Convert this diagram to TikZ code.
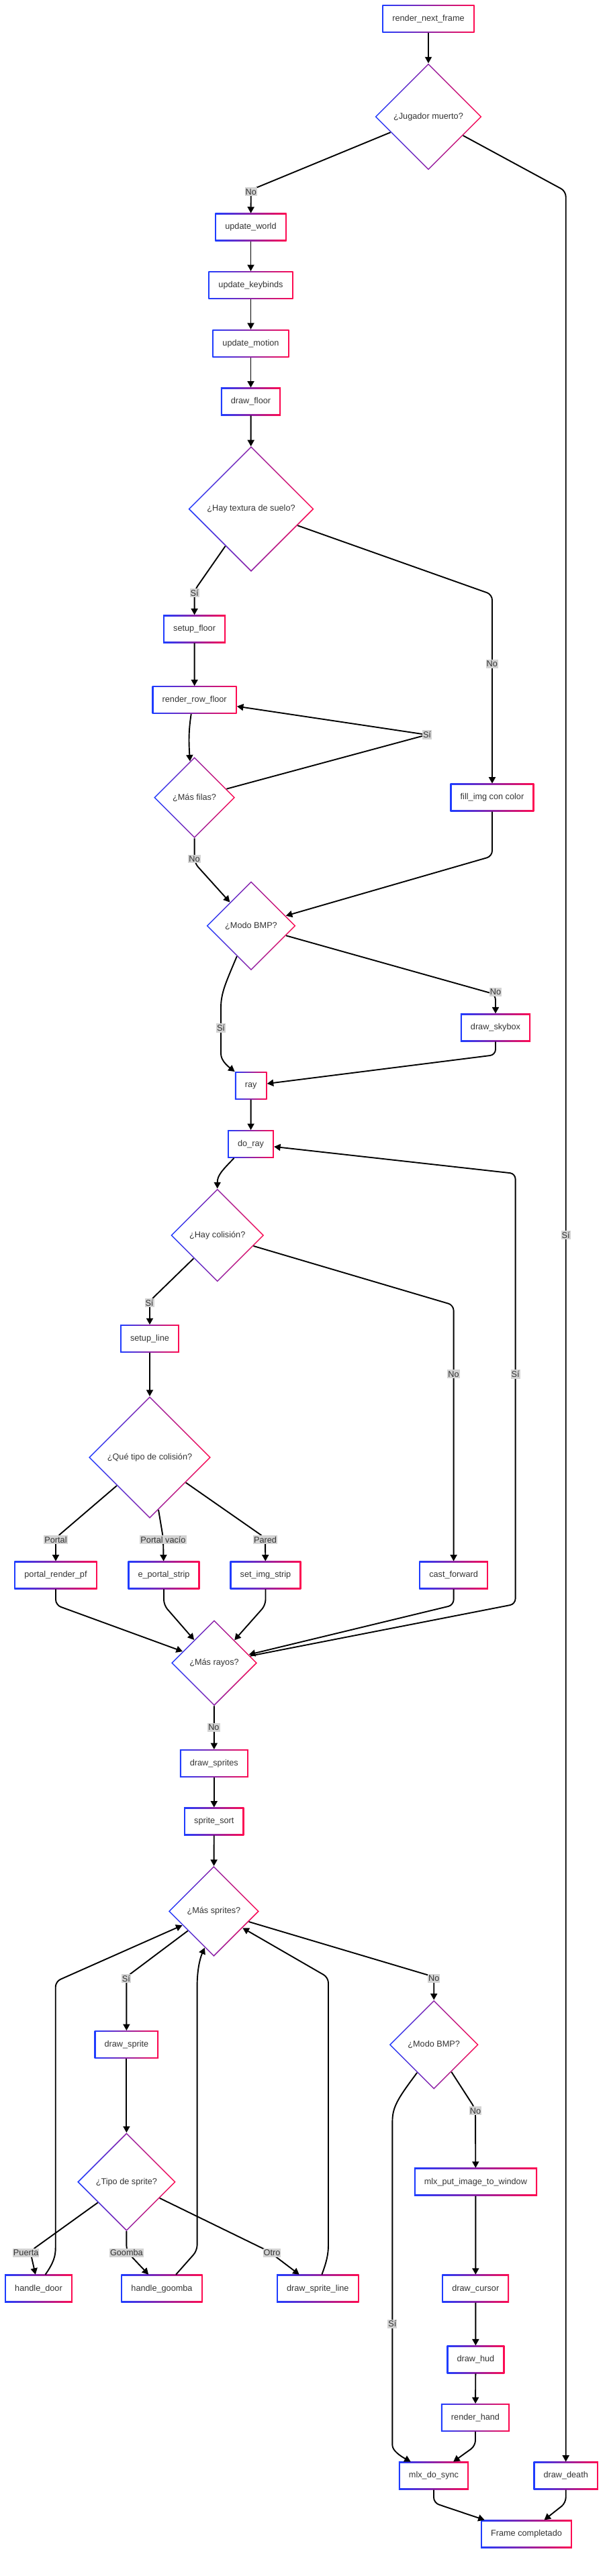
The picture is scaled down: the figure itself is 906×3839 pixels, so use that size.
\documentclass[tikz,border=0pt]{standalone}
\usepackage{fontspec}
\setmainfont{Liberation Sans}
\usetikzlibrary{shapes.geometric,arrows.meta}
\definecolor{cB}{RGB}{30,60,255}
\definecolor{cR}{RGB}{255,10,80}
\definecolor{txt}{RGB}{51,51,51}
\definecolor{lblbg}{RGB}{211,211,211}
\tikzset{
  base/.style={font=\fontsize{12.7}{15}\selectfont, text=txt},
  procbox/.style={base, rectangle, minimum height=41.5pt, inner xsep=15pt, inner ysep=2pt,
    left color=cB, right color=cR,
    path picture={\fill[white] ([shift={(2pt,2pt)}]path picture bounding box.south west) rectangle ([shift={(-2pt,-2pt)}]path picture bounding box.north east);}},
  decision/.style={base, diamond, shape aspect=1, inner sep=0pt, minimum width=#1, minimum height=#1,
    left color=cB, right color=cR,
    path picture={\fill[white] ([yshift=-2.3pt]path picture bounding box.north) -- ([xshift=-2.3pt]path picture bounding box.east) -- ([yshift=2.3pt]path picture bounding box.south) -- ([xshift=2.3pt]path picture bounding box.west) -- cycle;}},
  elabel/.style={base, fill=lblbg, inner xsep=1pt, inner ysep=2pt},
  arr/.style={line width=1.9pt, -{Triangle[length=9.5pt,width=10pt]}, rounded corners=8pt, line join=round},
}
\begin{document}
\begin{tikzpicture}[x=1pt,y=-1pt]
\useasboundingbox[fill=white] (0,0) rectangle (906,3839);
% nodes
\node[procbox] (rnf) at (638,28) {render\_next\_frame};
\node[decision=159pt] (jug) at (638,174) {¿Jugador muerto?};
\node[procbox] (uw) at (373.5,338.7) {update\_world};
\node[procbox] (uk) at (373.5,425) {update\_keybinds};
\node[procbox] (um) at (373.5,511.8) {update\_motion};
\node[procbox] (df) at (373.5,598.5) {draw\_floor};
\node[decision=187pt] (hts) at (374,758.6) {¿Hay textura de suelo?};
\node[procbox] (sf) at (289.6,937.4) {setup\_floor};
\node[procbox] (rrf) at (289.7,1043.2) {render\_row\_floor};
\node[decision=121pt] (mf) at (289.6,1188.6) {¿Más filas?};
\node[procbox] (fic) at (733,1188.6) {fill\_img con color};
\node[decision=133pt] (bmpa) at (374,1379.7) {¿Modo BMP?};
\node[procbox] (sky) at (738,1531.4) {draw\_skybox};
\node[procbox] (ray) at (373.7,1618) {ray};
\node[procbox] (dor) at (373.5,1705) {do\_ray};
\node[decision=139pt] (hc) at (323.7,1841) {¿Hay colisión?};
\node[procbox] (sl) at (223,1995) {setup\_line};
\node[decision=182pt] (qt) at (223,2172) {¿Qué tipo de colisión?};
\node[procbox] (prp) at (83,2347.5) {portal\_render\_pf};
\node[procbox] (eps) at (244,2347.5) {e\_portal\_strip};
\node[procbox] (sis) at (395.5,2347.5) {set\_img\_strip};
\node[procbox] (cf) at (675.6,2347.5) {cast\_forward};
\node[decision=128pt] (mr) at (319,2478.3) {¿Más rayos?};
\node[procbox] (ds) at (318.8,2628) {draw\_sprites};
\node[procbox] (ss) at (318.8,2714.5) {sprite\_sort};
\node[decision=135pt] (ms) at (318.4,2848.4) {¿Más sprites?};
\node[procbox] (dsp) at (188.4,3047) {draw\_sprite};
\node[decision=133pt] (bmpb) at (646.2,3047.2) {¿Modo BMP?};
\node[decision=146.5pt] (ts) at (188.4,3251.7) {¿Tipo de sprite?};
\node[procbox] (hd) at (57.5,3410.7) {handle\_door};
\node[procbox] (hg) at (241,3410.7) {handle\_goomba};
\node[procbox] (dsl) at (473.3,3410.7) {draw\_sprite\_line};
\node[procbox] (mpi) at (708.4,3251.7) {mlx\_put\_image\_to\_window};
\node[procbox] (dcu) at (708.3,3410.7) {draw\_cursor};
\node[procbox] (dh) at (708.4,3516.4) {draw\_hud};
\node[procbox] (rh) at (708,3603) {render\_hand};
\node[procbox] (mds) at (646,3689.6) {mlx\_do\_sync};
\node[procbox] (dd) at (842.7,3689.6) {draw\_death};
\node[procbox] (fc) at (784,3776.4) {Frame completado};
% edges
\draw[arr] (rnf) -- (jug);
\draw[arr] (jug) -- (373.8,283) -- (uw);
\draw[arr] (jug) -- (842.7,285) -- (dd);
\draw[arr] (uw) -- (uk);
\draw[arr] (uk) -- (um);
\draw[arr] (um) -- (df);
\draw[arr] (df) -- (hts);
\draw[arr] (hts) -- (289.6,880) -- (sf);
\draw[arr] (hts) -- (733,886) -- (fic);
\draw[arr] (sf) -- (rrf);
\draw[arr] ([xshift=-5pt]rrf.south) .. controls (281,1088) and (281,1105) .. (mf.97);
\draw[arr] (mf) -- (636,1095) -- (rrf);
\draw[arr] (mf) -- (289.6,1286) -- (bmpa);
\draw[arr] (fic) -- (733,1276) -- (bmpa);
\draw[arr] (bmpa.245) .. controls (336,1465) and (329,1480) .. (329,1510) -- (329,1562) .. controls (329,1580) and (338,1588) .. (ray.north west);
\draw[arr] (bmpa) -- (738,1482) -- (sky);
\draw[arr] (sky) -- (738,1572) -- (ray);
\draw[arr] (ray) -- (dor);
\draw[arr] ([xshift=-25pt]dor.south) .. controls (330,1745) and (323.7,1752) .. (hc.north);
\draw[arr] (hc) -- (223,1939) -- (sl);
\draw[arr] (hc) -- (675.6,1945) -- (cf);
\draw[arr] (sl) -- (qt);
\draw[arr] (qt) -- (83,2292) -- (prp);
\draw[arr] (qt) -- (243,2292) -- (eps);
\draw[arr] (qt) -- (395,2292) -- (sis);
\draw[arr] (prp) -- (83,2392) -- (mr);
\draw[arr] (eps) -- (244,2392) -- (mr);
\draw[arr] (sis) -- (395.5,2392) -- (mr);
\draw[arr] (cf) -- (675.6,2392) -- (mr);
\draw[arr] (mr) -- (767.6,2390.5) -- (767.6,1749) -- (dor);
\draw[arr] (mr) -- (ds);
\draw[arr] (ds) -- (ss);
\draw[arr] (ss) -- (ms);
\draw[arr] (ms) -- (188.4,2946) -- (dsp);
\draw[arr] (ms) -- (646.2,2946) -- (bmpb);
\draw[arr] (dsp) -- (ts);
\draw[arr] (ts) -- (45,3355) -- (hd);
\draw[arr] (ts) -- (188.4,3355) -- (hg);
\draw[arr] (ts) -- (400,3355) -- (dsl);
\draw[arr] ([xshift=10pt]hd.north) .. controls (80,3372) and (82.7,3362) .. (82.7,3342) -- (82.7,2953) -- (ms);
\draw[arr] ([xshift=21pt]hg.north) -- (293.6,3354) -- (293.6,2968) .. controls (293.6,2935) and (298,2918) .. (ms.-104);
\draw[arr] ([xshift=6pt]dsl.north) .. controls (486,3372) and (489,3360) .. (489,3338) -- (489,2947) -- (ms);
\draw[arr] (bmpb) -- (708,3143) -- (mpi);
\draw[arr] (bmpb.-121) .. controls (592,3128) and (584.4,3140) .. (584.4,3170) -- (584.4,3636) .. controls (584.4,3652) and (596,3660) .. ([xshift=18pt]mds.north west);
\draw[arr] (mpi) -- (dcu);
\draw[arr] (dcu) -- (dh);
\draw[arr] (dh) -- (rh);
\draw[arr] (rh) -- (708,3645) -- (mds);
\draw[arr] (mds) -- (646,3730) -- (fc);
\draw[arr] (dd) -- (842.7,3730) -- (fc);
% labels
\node[elabel] (l1) at (373.8,285.7) {No};
\node[elabel] (l2) at (842.7,1840.6) {Sí};
\node[elabel] (l3) at (289.6,883.4) {Sí};
\node[elabel] (l4) at (732.7,989.5) {No};
\node[elabel] (l5) at (636,1095) {Sí};
\node[elabel] (l6) at (289.6,1280) {No};
\node[elabel] (l7) at (329,1531.9) {Sí};
\node[elabel] (l8) at (738,1478.4) {No};
\node[elabel] (l9) at (222.5,1941.6) {Sí};
\node[elabel] (l10) at (675.6,2047.8) {No};
\node[elabel] (l11) at (767.6,2047.8) {Sí};
\node[elabel] (l12) at (83,2294.5) {Portal};
\node[elabel] (l13) at (243,2294.5) {Portal vacío};
\node[elabel] (l14) at (395,2294.5) {Pared};
\node[elabel] (l15) at (318.4,2574.6) {No};
\node[elabel] (l16) at (187.9,2948.6) {Sí};
\node[elabel] (l17) at (646.2,2948.6) {No};
\node[elabel] (l18) at (38.7,3357.4) {Puerta};
\node[elabel] (l19) at (188.4,3357.4) {Goomba};
\node[elabel] (l20) at (405,3357.4) {Otro};
\node[elabel] (l21) at (708,3145.7) {No};
\node[elabel] (l22) at (584.4,3463.3) {Sí};
\end{tikzpicture}
\end{document}
